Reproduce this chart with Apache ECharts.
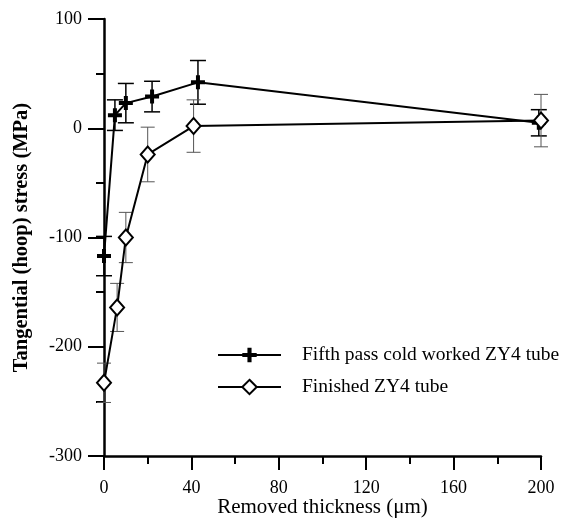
<!DOCTYPE html>
<html>
<head>
<meta charset="utf-8">
<script src="https://cdn.jsdelivr.net/npm/echarts@6/dist/echarts.min.js"></script>
<style>html,body{margin:0;padding:0;background:#fff;}</style>
</head>
<body>
<div id="chart" style="width:562px;height:518px;"></div>
<script>
var xTicks = [0, 40, 80, 120, 160, 200];
var yTicks = [-300, -200, -100, 0, 100];

// Fifth pass cold worked ZY4 tube
var thick1 = [0, 5, 10, 22, 43, 199];
var stress1 = [-117, 12, 23, 29, 42, 5];
var err1 = [18, 14, 18, 14, 20, 12];

// Finished ZY4 tube
var thick2 = [0, 6, 10, 20, 41, 200];
var stress2 = [-233, -164, -100, -24, 2, 7];
var err2 = [18, 22, 23, 25, 24, 24];

var names = ['Fifth pass cold worked ZY4 tube', 'Finished ZY4 tube'];
var font = 'Liberation Serif';

function pts(xs, ys) {
    var out = [];
    for (var i = 0; i < xs.length; i++) out.push([xs[i], ys[i]]);
    return out;
}
function bars(xs, ys, es) {
    var out = [];
    for (var i = 0; i < xs.length; i++) out.push([xs[i], ys[i] - es[i], ys[i] + es[i]]);
    return out;
}
function errRender(color, width, half) {
    return function (params, api) {
        var x = api.value(0);
        var top = api.coord([x, api.value(2)]);
        var bot = api.coord([x, api.value(1)]);
        var st = { stroke: color, lineWidth: width };
        return {
            type: 'group',
            children: [
                { type: 'line', shape: { x1: top[0], y1: top[1], x2: bot[0], y2: bot[1] }, style: st },
                { type: 'line', shape: { x1: top[0] - half, y1: top[1], x2: top[0] + half, y2: top[1] }, style: st },
                { type: 'line', shape: { x1: bot[0] - half, y1: bot[1], x2: bot[0] + half, y2: bot[1] }, style: st }
            ]
        };
    };
}

var plus = 'path://M5,0h4v5h5v4h-5v5h-4v-5h-5v-4h5z';

var myChart = echarts.init(document.getElementById('chart'));
option = {
    animation: false,
    grid: { left: 104, right: 21, top: 19, bottom: 62, outerBoundsMode: 'none', containLabel: false },
    legend: {
        data: names,
        orient: 'vertical',
        left: 212,
        top: 340,
        itemWidth: 63,
        itemHeight: 18,
        itemGap: 12,
        textStyle: { fontFamily: font, fontSize: 19.5, color: '#000', padding: [0, 0, 0, 16] }
    },
    xAxis: {
        type: 'value',
        min: 0, max: 200, interval: 40,
        name: 'Removed thickness (μm)',
        nameLocation: 'middle',
        nameGap: 41,
        nameMoveOverlap: false,
        nameTextStyle: { fontFamily: font, fontSize: 21, color: '#000' },
        axisLine: { onZero: false, lineStyle: { color: '#000', width: 2.5 } },
        axisTick: { inside: false, length: 14, lineStyle: { color: '#000', width: 2 } },
        minorTick: { show: true, splitNumber: 2, length: 8, lineStyle: { color: '#000', width: 2 } },
        splitLine: { show: false },
        axisLabel: { margin: 23, fontFamily: font, fontSize: 18, color: '#000' }
    },
    yAxis: {
        type: 'value',
        min: -300, max: 100, interval: 100,
        name: 'Tangential (hoop) stress (MPa)',
        nameLocation: 'middle',
        nameGap: 72,
        nameMoveOverlap: false,
        nameRotate: 90,
        nameTextStyle: { fontFamily: font, fontSize: 20.5, fontWeight: 'bold', color: '#000' },
        axisLine: { show: true, onZero: false, lineStyle: { color: '#000', width: 2.5 } },
        axisTick: { show: true, inside: false, length: 16, lineStyle: { color: '#000', width: 2 } },
        minorTick: { show: true, splitNumber: 2, length: 8, lineStyle: { color: '#000', width: 2 } },
        splitLine: { show: false },
        axisLabel: { margin: 22, fontFamily: font, fontSize: 18, color: '#000' }
    },
    series: [
        {
            type: 'custom',
            renderItem: errRender('#000', 1.5, 8),
            data: bars(thick1, stress1, err1),
            z: 1,
            silent: true
        },
        {
            type: 'custom',
            renderItem: errRender('#555', 1, 7),
            data: bars(thick2, stress2, err2),
            z: 1,
            silent: true
        },
        {
            name: names[0],
            type: 'line',
            data: pts(thick1, stress1),
            symbol: plus,
            symbolSize: 14,
            lineStyle: { color: '#000', width: 2 },
            itemStyle: { color: '#000', borderWidth: 0 },
            z: 3
        },
        {
            name: names[1],
            type: 'line',
            data: pts(thick2, stress2),
            symbol: 'diamond',
            symbolSize: [14, 16],
            lineStyle: { color: '#000', width: 2 },
            itemStyle: { color: '#fff', borderColor: '#000', borderWidth: 2 },
            z: 4
        }
    ]
};
myChart.setOption(option);
</script>
</body>
</html>
